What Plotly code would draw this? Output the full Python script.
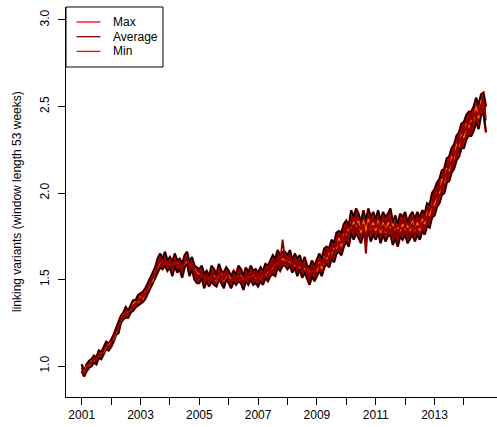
import plotly.graph_objects as go

# monthly time index (decimal years), Jan 2001 .. Oct 2014
start_year = 2001
n_points = 166
t = [start_year + i / 12 for i in range(n_points)]

average = [
    0.99, 0.95, 0.99, 1.01, 1.02, 1.04, 1.03, 1.07, 1.06, 1.09, 1.12, 1.11,
    1.13, 1.16, 1.20, 1.22, 1.27, 1.29, 1.31, 1.30, 1.33, 1.35, 1.36, 1.38,
    1.39, 1.40, 1.42, 1.45, 1.47, 1.50, 1.54, 1.58, 1.61, 1.59, 1.62, 1.58,
    1.60, 1.57, 1.61, 1.58, 1.59, 1.56, 1.60, 1.62, 1.57, 1.59, 1.55, 1.53,
    1.52, 1.54, 1.50, 1.52, 1.49, 1.53, 1.51, 1.50, 1.54, 1.52, 1.50, 1.53,
    1.51, 1.49, 1.52, 1.50, 1.53, 1.51, 1.48, 1.52, 1.50, 1.53, 1.51, 1.52,
    1.50, 1.52, 1.51, 1.54, 1.53, 1.56, 1.58, 1.57, 1.61, 1.60, 1.73, 1.62,
    1.60, 1.62, 1.58, 1.60, 1.57, 1.59, 1.56, 1.58, 1.55, 1.53, 1.56, 1.54,
    1.57, 1.59, 1.58, 1.62, 1.64, 1.63, 1.67, 1.66, 1.70, 1.72, 1.71, 1.75,
    1.78, 1.76, 1.82, 1.80, 1.83, 1.81, 1.79, 1.82, 1.65, 1.83, 1.80, 1.81,
    1.80, 1.82, 1.79, 1.81, 1.78, 1.80, 1.82, 1.79, 1.81, 1.77, 1.80, 1.79,
    1.81, 1.78, 1.80, 1.82, 1.79, 1.81, 1.80, 1.83, 1.84, 1.87, 1.89, 1.92,
    1.95, 1.98, 2.02, 2.05, 2.08, 2.12, 2.15, 2.18, 2.22, 2.25, 2.29, 2.32,
    2.34, 2.37, 2.41, 2.39, 2.44, 2.47, 2.45, 2.51, 2.54, 2.42,
]

max_vals = [
    1.01, 0.97, 1.01, 1.03, 1.04, 1.06, 1.05, 1.09, 1.08, 1.11, 1.14, 1.13,
    1.15, 1.18, 1.22, 1.25, 1.29, 1.31, 1.34, 1.32, 1.35, 1.38, 1.38, 1.41,
    1.42, 1.43, 1.45, 1.48, 1.50, 1.53, 1.57, 1.62, 1.65, 1.62, 1.66, 1.61,
    1.63, 1.60, 1.65, 1.61, 1.62, 1.59, 1.64, 1.66, 1.60, 1.63, 1.58, 1.57,
    1.56, 1.58, 1.53, 1.55, 1.52, 1.58, 1.56, 1.53, 1.59, 1.55, 1.54, 1.57,
    1.55, 1.52, 1.55, 1.53, 1.58, 1.56, 1.52, 1.57, 1.54, 1.58, 1.55, 1.56,
    1.54, 1.57, 1.55, 1.59, 1.58, 1.61, 1.64, 1.62, 1.67, 1.64, 1.66, 1.66,
    1.64, 1.67, 1.61, 1.65, 1.62, 1.64, 1.59, 1.63, 1.58, 1.57, 1.61, 1.58,
    1.62, 1.65, 1.62, 1.68, 1.69, 1.68, 1.73, 1.71, 1.77, 1.78, 1.77, 1.82,
    1.84, 1.81, 1.90, 1.86, 1.91, 1.88, 1.83, 1.90, 1.84, 1.91, 1.86, 1.89,
    1.85, 1.90, 1.84, 1.89, 1.86, 1.88, 1.91, 1.83, 1.87, 1.82, 1.88, 1.86,
    1.89, 1.83, 1.87, 1.89, 1.85, 1.89, 1.86, 1.90, 1.88, 1.94, 1.93, 2.00,
    2.02, 2.06, 2.08, 2.13, 2.14, 2.20, 2.21, 2.26, 2.28, 2.33, 2.35, 2.40,
    2.41, 2.45, 2.47, 2.47, 2.50, 2.55, 2.51, 2.57, 2.58, 2.50,
]

min_vals = [
    0.97, 0.94, 0.97, 0.99, 1.00, 1.02, 1.01, 1.05, 1.04, 1.07, 1.10, 1.09,
    1.11, 1.14, 1.18, 1.19, 1.25, 1.27, 1.28, 1.28, 1.31, 1.32, 1.34, 1.35,
    1.36, 1.37, 1.39, 1.42, 1.44, 1.47, 1.51, 1.54, 1.57, 1.56, 1.58, 1.55,
    1.57, 1.52, 1.58, 1.54, 1.56, 1.51, 1.57, 1.59, 1.52, 1.56, 1.50, 1.48,
    1.48, 1.51, 1.45, 1.49, 1.46, 1.49, 1.47, 1.46, 1.50, 1.48, 1.45, 1.50,
    1.48, 1.45, 1.49, 1.47, 1.49, 1.48, 1.44, 1.49, 1.47, 1.50, 1.47, 1.48,
    1.46, 1.49, 1.47, 1.51, 1.49, 1.52, 1.53, 1.52, 1.57, 1.55, 1.58, 1.58,
    1.56, 1.58, 1.54, 1.57, 1.52, 1.56, 1.51, 1.54, 1.50, 1.47, 1.52, 1.49,
    1.52, 1.55, 1.52, 1.57, 1.59, 1.57, 1.62, 1.60, 1.65, 1.66, 1.64, 1.69,
    1.72, 1.69, 1.77, 1.73, 1.77, 1.74, 1.71, 1.77, 1.72, 1.78, 1.72, 1.76,
    1.73, 1.77, 1.71, 1.76, 1.72, 1.75, 1.76, 1.70, 1.74, 1.69, 1.75, 1.73,
    1.76, 1.71, 1.74, 1.76, 1.72, 1.76, 1.73, 1.78, 1.76, 1.81, 1.80, 1.86,
    1.87, 1.92, 1.94, 1.99, 2.00, 2.06, 2.07, 2.12, 2.14, 2.19, 2.21, 2.26,
    2.26, 2.31, 2.33, 2.33, 2.36, 2.41, 2.37, 2.45, 2.46, 2.35,
]

variant_mid = [
    0.98, 0.96, 1.00, 1.00, 1.03, 1.03, 1.04, 1.06, 1.07, 1.08, 1.11, 1.12,
    1.14, 1.15, 1.19, 1.23, 1.26, 1.30, 1.30, 1.31, 1.32, 1.36, 1.37, 1.37,
    1.40, 1.39, 1.43, 1.44, 1.48, 1.49, 1.55, 1.57, 1.60, 1.60, 1.61, 1.59,
    1.59, 1.58, 1.60, 1.59, 1.58, 1.57, 1.59, 1.61, 1.58, 1.58, 1.56, 1.54,
    1.53, 1.53, 1.51, 1.51, 1.50, 1.52, 1.52, 1.49, 1.53, 1.53, 1.49, 1.52,
    1.52, 1.50, 1.51, 1.51, 1.52, 1.52, 1.49, 1.51, 1.51, 1.52, 1.52, 1.51,
    1.51, 1.51, 1.52, 1.53, 1.54, 1.55, 1.57, 1.58, 1.60, 1.61, 1.62, 1.61,
    1.61, 1.60, 1.59, 1.58, 1.58, 1.57, 1.57, 1.56, 1.56, 1.54, 1.55, 1.55,
    1.55, 1.60, 1.56, 1.63, 1.62, 1.65, 1.65, 1.68, 1.68, 1.74, 1.69, 1.76,
    1.76, 1.79, 1.80, 1.83, 1.81, 1.84, 1.77, 1.84, 1.78, 1.85, 1.79, 1.83,
    1.78, 1.84, 1.77, 1.83, 1.77, 1.83, 1.80, 1.82, 1.79, 1.80, 1.78, 1.82,
    1.79, 1.81, 1.78, 1.84, 1.78, 1.83, 1.78, 1.85, 1.82, 1.89, 1.87, 1.94,
    1.93, 2.00, 2.00, 2.08, 2.06, 2.14, 2.13, 2.21, 2.20, 2.28, 2.27, 2.34,
    2.32, 2.40, 2.38, 2.42, 2.42, 2.50, 2.43, 2.53, 2.52, 2.44,
]

year_ticks = list(range(2001, 2015))
year_labels = [str(y) if y % 2 == 1 else "" for y in year_ticks]
y_ticks = [1.0, 1.5, 2.0, 2.5, 3.0]
y_labels = ["1.0", "1.5", "2.0", "2.5", "3.0"]
legend_names = ["Max", "Average", "Min"]

RED = "#FF0000"
DARKRED = "#8B0000"
ORANGE = "#FF6A00"
legend_colors = [RED, DARKRED, RED]

fig = go.Figure()
# filled band between min and max
fig.add_trace(go.Scatter(x=t, y=min_vals, mode="lines", showlegend=False,
                         line=dict(width=0), hoverinfo="skip"))
fig.add_trace(go.Scatter(x=t, y=max_vals, mode="lines", showlegend=False,
                         line=dict(width=0), fill="tonexty",
                         fillcolor=DARKRED, hoverinfo="skip"))
# red envelopes (Max / Min)
fig.add_trace(go.Scatter(x=t, y=max_vals, mode="lines", name="Max",
                         showlegend=False, line=dict(color=RED, width=2.4)))
fig.add_trace(go.Scatter(x=t, y=min_vals, mode="lines", name="Min",
                         showlegend=False, line=dict(color=RED, width=2.4)))
# black variant lines
fig.add_trace(go.Scatter(x=t, y=max_vals, mode="lines", showlegend=False,
                         line=dict(color="black", width=1.6), hoverinfo="skip"))
fig.add_trace(go.Scatter(x=t, y=min_vals, mode="lines", showlegend=False,
                         line=dict(color="black", width=1.6), hoverinfo="skip"))
fig.add_trace(go.Scatter(x=t, y=variant_mid, mode="lines", showlegend=False,
                         line=dict(color=ORANGE, width=1.4), hoverinfo="skip"))
fig.add_trace(go.Scatter(x=t, y=average, mode="lines", name="Average",
                         showlegend=False, line=dict(color=DARKRED, width=1.8)))

axis_common = dict(showgrid=False, zeroline=False, showline=True,
                   linecolor="black", linewidth=1, ticks="outside",
                   ticklen=7, tickwidth=1, tickcolor="black",
                   tickfont=dict(family="Liberation Sans, Arial", size=12, color="black"))

# legend box drawn in paper coordinates (plot area: 431 x 390 px)
PW, PH = 431.0, 390.0
def px_x(px):
    return px / PW
def px_y(py):
    return 1 - py / PH

shapes = [dict(type="rect", xref="paper", yref="paper",
               x0=px_x(0), x1=px_x(97), y0=px_y(60), y1=px_y(0),
               line=dict(color="black", width=1), fillcolor="white", layer="above")]
annotations = []
for k, (name, col) in enumerate(zip(legend_names, legend_colors)):
    yy = 15 + k * 14.7
    shapes.append(dict(type="line", xref="paper", yref="paper",
                       x0=px_x(10.5), x1=px_x(34.5), y0=px_y(yy), y1=px_y(yy),
                       line=dict(color=col, width=1.3), layer="above"))
    annotations.append(dict(text=name, xref="paper", yref="paper",
                            x=px_x(45), y=px_y(yy), xanchor="left", yanchor="middle",
                            showarrow=False, font=dict(size=12, color="black")))

annotations.append(dict(text="linking variants (window length 53 weeks)",
                        xref="paper", yref="paper", x=0, y=0.5,
                        xshift=-49, xanchor="center", yanchor="middle",
                        textangle=-90, showarrow=False,
                        font=dict(size=12, color="black")))

fig.update_layout(
    width=497, height=427,
    margin=dict(l=66, r=0, t=7, b=30),
    paper_bgcolor="white", plot_bgcolor="white",
    font=dict(family="Liberation Sans, Arial", size=12, color="black"),
    xaxis=dict(range=[2000.466, 2015.126], tickmode="array",
               tickvals=year_ticks, ticktext=year_labels, **axis_common),
    yaxis=dict(range=[0.821, 3.075], tickmode="array", tickvals=y_ticks,
               ticktext=y_labels, tickangle=-90, ticklabelstandoff=4,
               **axis_common),
    shapes=shapes,
    annotations=annotations,
    showlegend=False,
)

fig.write_html("out.html")
